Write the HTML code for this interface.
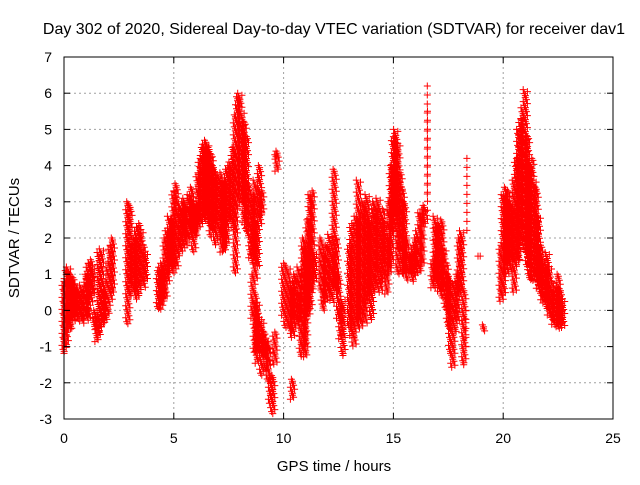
<!DOCTYPE html>
<html><head><meta charset="utf-8"><style>
html,body{margin:0;padding:0;background:#fff;}
svg text{font-family:"Liberation Sans",sans-serif;fill:#000;}
</style></head><body>
<svg id="chart" width="640" height="480" viewBox="0 0 640 480" xmlns="http://www.w3.org/2000/svg">
<rect width="640" height="480" fill="#fff"/>
<text x="334" y="34" font-size="16" text-anchor="middle">Day 302 of 2020, Sidereal Day-to-day VTEC variation (SDTVAR) for receiver dav1</text>
<g id="grid"></g>
<g id="marks"></g>
<rect x="64" y="57" width="549" height="362" fill="none" stroke="#000" stroke-width="1"/>
<g id="ticks"></g>
<text x="334" y="471" font-size="15" text-anchor="middle">GPS time / hours</text>
<text transform="translate(19,238) rotate(-90)" font-size="15" text-anchor="middle">SDTVAR / TECUs</text>
</svg>
<script>
const xTicks = [0,5,10,15,20,25];
const yTicks = [-3,-2,-1,0,1,2,3,4,5,6,7];
// band data: time (hours), low value, high value (TECU)
const times = [0.0,0.1,0.2,0.3,0.4,0.5,0.6,0.7,0.8,0.9,1.0,1.1,1.2,1.3,1.4,1.5,1.6,1.7,1.8,1.9,2.0,2.1,2.2,
2.9,3.0,3.1,3.2,3.3,3.4,3.5,3.6,3.7,
4.3,4.4,4.5,4.6,4.7,4.8,4.9,5.0,5.1,5.2,5.3,5.4,5.5,5.6,5.7,5.8,5.9,6.0,6.1,6.2,6.3,6.4,6.5,6.6,6.7,6.8,6.9,7.0,7.1,7.2,7.3,7.4,7.5,7.6,7.7,7.8,7.9,8.0,8.1,8.2,8.3,8.4,8.5,8.6,8.7,8.8,8.9,9.0,
8.6,8.7,8.8,8.9,9.0,9.1,9.2,9.3,9.4,9.5,9.6,9.6,9.7,
10.0,10.1,10.2,10.3,10.4,10.5,10.6,10.7,10.8,10.9,11.0,11.1,11.2,11.3,11.4,10.4,
11.7,11.8,11.9,12.0,12.1,12.2,12.3,12.4,12.5,12.6,12.7,
13.0,13.1,13.2,13.3,13.4,13.5,13.6,13.7,13.8,13.9,14.0,14.1,14.2,14.3,14.4,14.5,14.6,14.7,14.8,14.9,15.0,15.1,15.2,15.3,15.4,15.5,15.6,15.7,15.8,15.9,16.0,16.1,16.2,16.3,16.4,16.5,16.6,
16.8,16.9,17.0,17.1,17.2,17.3,17.4,17.5,17.6,17.7,17.8,17.9,18.0,18.1,18.2,18.3,18.3,18.9,19.1,
19.9,20.0,20.1,20.2,20.3,20.4,20.5,20.6,20.7,20.8,20.9,21.0,21.1,21.2,21.3,21.4,21.5,21.6,21.7,21.8,21.9,22.0,22.1,22.2,22.3,22.4,22.5,22.6,22.7];
const lows = [-1.2,-1.0,-0.6,-0.5,-0.3,-0.2,-0.3,-0.2,-0.4,-0.3,-0.3,-0.2,0.2,0.4,-0.5,-0.9,-0.7,-0.5,-0.4,-0.3,-0.1,0.2,0.5,
-0.4,0.4,0.8,0.5,0.3,0.4,0.7,0.6,0.8,
0.0,0.0,0.2,0.3,0.8,1.0,1.2,1.0,1.2,1.4,1.6,1.7,2.0,1.8,2.0,2.2,1.6,2.0,2.2,2.5,2.4,2.6,2.5,2.3,2.0,2.2,1.8,2.4,2.0,1.6,1.6,1.8,2.4,2.5,2.2,1.0,2.8,3.2,3.0,2.4,2.2,2.0,1.4,1.3,0.8,1.2,2.3,2.6,
-0.3,-1.2,-1.5,-1.0,-1.8,-1.3,-1.7,-2.0,-2.6,-2.9,4.2,-1.5,3.8,
-0.2,-0.5,0.0,-0.6,-0.8,-0.2,-0.5,-0.3,-1.3,-1.0,-1.3,-0.2,0.0,0.5,0.8,-2.5,
0.5,0.0,0.2,0.3,0.5,0.2,0.6,0.5,-0.3,-0.8,-1.3,
-0.5,-0.8,-1.0,-0.5,-0.3,-0.5,0.0,-0.4,0.2,0.4,-0.3,0.5,0.6,1.2,0.5,0.8,1.2,0.4,1.0,1.2,2.2,2.6,1.0,1.6,1.0,1.0,0.8,1.0,1.0,0.8,1.0,1.1,1.0,1.2,2.4,3.0,2.3,
0.6,0.8,0.6,0.5,0.3,0.5,0.0,-0.5,-1.2,-1.6,-0.6,-0.3,0.4,0.6,-1.5,-1.2,2.2,1.5,-0.6,
0.2,0.4,1.0,1.3,1.0,1.4,0.5,1.2,1.4,1.8,2.2,1.6,1.2,0.8,0.8,1.0,0.8,0.6,0.4,0.2,0.2,0.0,-0.2,-0.3,-0.4,-0.5,-0.5,-0.4,-0.5];
const highs = [0.8,1.1,1.2,1.0,0.9,0.7,0.6,0.5,0.7,0.5,1.0,1.3,1.4,1.2,0.0,-0.2,1.6,1.7,0.5,0.8,1.3,1.8,2.0,
3.0,2.9,1.8,2.0,2.3,2.4,2.2,1.8,1.6,
1.1,1.3,1.2,2.0,2.2,2.6,2.5,3.3,3.5,3.0,2.8,3.0,3.1,2.8,3.2,3.4,3.0,2.8,3.8,4.2,4.5,4.7,4.6,4.5,4.3,4.0,3.8,3.6,3.8,3.6,3.5,3.9,4.0,4.1,4.5,5.4,5.9,6.0,5.5,5.2,4.8,3.5,3.0,3.2,3.6,2.4,4.0,3.3,
1.0,0.5,0.2,-0.2,-0.3,-0.6,-0.8,-0.9,-1.9,-1.8,4.3,-0.6,4.4,
1.3,0.8,1.2,0.6,0.8,1.0,0.4,1.2,0.5,2.0,1.7,2.5,3.2,3.3,1.6,-1.9,
2.0,1.5,1.8,1.3,2.1,1.6,3.9,2.0,1.0,0.1,0.3,
1.8,2.4,2.0,2.6,3.6,2.5,3.0,2.8,3.2,2.6,2.4,3.0,2.8,3.1,2.6,2.8,2.4,2.0,3.0,4.0,4.8,5.0,4.6,3.8,3.4,3.0,2.0,1.6,1.5,1.8,2.0,2.2,2.7,2.8,2.9,6.2,5.5,
1.4,2.6,2.4,2.3,2.5,1.7,1.3,1.0,0.8,0.2,0.8,1.0,2.0,2.2,0.6,0.0,4.2,1.5,-0.4,
1.8,3.2,3.4,3.3,3.0,2.8,3.6,4.2,5.0,5.3,5.6,6.1,4.8,4.0,4.2,3.6,3.4,2.6,1.8,1.4,1.2,1.6,1.2,0.8,0.5,0.6,1.0,0.6,0.3];
// times whose bands are rendered sparsely (isolated streaks)
const sparseBands = [9.7, 16.5, 16.6, 18.3];

const X0=64, X1=613, Y0=419, Y1=57;
function xs(t){return X0+(t-0)/(25-0)*(X1-X0);}
function ys(v){return Y0-(v-(-3))/(7-(-3))*(Y0-Y1);}
const NS="http://www.w3.org/2000/svg";
const grid=document.getElementById('grid'), tk=document.getElementById('ticks'), mk=document.getElementById('marks');
function mkEl(tag,attrs,parent){const e=document.createElementNS(NS,tag);for(const k in attrs)e.setAttribute(k,attrs[k]);parent.appendChild(e);return e;}
xTicks.forEach(t=>{
  const x=xs(t);
  if(t>0&&t<25){const g=mkEl('line',{x1:x,x2:x,y1:Y1,y2:Y0,stroke:'#a0a0a0','stroke-dasharray':'2,3'},grid);
  
  }
  mkEl('line',{x1:x,x2:x,y1:Y0,y2:Y0-6,stroke:'#000'},tk);
  mkEl('line',{x1:x,x2:x,y1:Y1,y2:Y1+6,stroke:'#000'},tk);
  const l=mkEl('text',{x:x,y:443,'font-size':14,'text-anchor':'middle'},tk);l.textContent=t;
  
  
});
yTicks.forEach(v=>{
  const y=ys(v);
  if(v>-3&&v<7){const g=mkEl('line',{x1:X0,x2:X1,y1:y,y2:y,stroke:'#a0a0a0','stroke-dasharray':'2,3'},grid);
  
  }
  mkEl('line',{x1:X0,x2:X0+6,y1:y,y2:y,stroke:'#000'},tk);
  mkEl('line',{x1:X1,x2:X1-6,y1:y,y2:y,stroke:'#000'},tk);
  const l=mkEl('text',{x:52,y:y+5,'font-size':14,'text-anchor':'end'},tk);l.textContent=v;
  
  
});
let d='';
function plus(x,y){d+='M'+(x-3.5).toFixed(1)+' '+y.toFixed(1)+'h7M'+x.toFixed(1)+' '+(y-3.5).toFixed(1)+'v7';}
times.forEach((t,i)=>{
  const yl=ys(lows[i]), yh=ys(highs[i]);
  const sparse = sparseBands.includes(t) && highs[i]-lows[i]>1;
  const step = sparse ? 9 : 4;
  const cols = sparse ? [xs(t)] : [xs(t)-1, xs(t)+1.2];
  cols.forEach((x,c)=>{
    for(let y=yh+(c*2);y<=yl+0.01;y+=step){
      plus(x+((Math.round(y)%3)-1), y);
    }
    if(yl-yh<1){plus(x,yl);}
  });
});
const p=mkEl('path',{d:d,stroke:'#ff0000','stroke-width':1,fill:'none'},mk);


</script>
</body></html>
